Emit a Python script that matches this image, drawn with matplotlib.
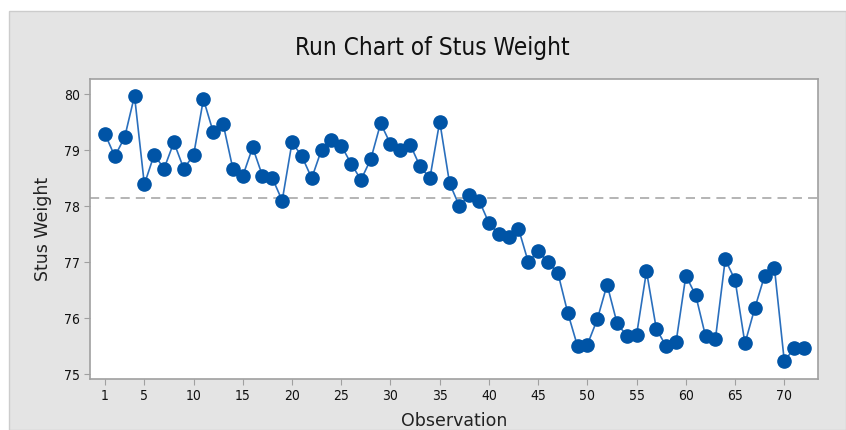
import matplotlib
matplotlib.use('Agg')
import matplotlib.pyplot as plt
from matplotlib.patches import Rectangle
import numpy as np

weight = [
    79.29, 78.89, 79.23, 79.97, 78.39, 78.92, 78.67, 79.14, 78.67, 78.91,
    79.91, 79.32, 79.47, 78.66, 78.54, 79.05, 78.54, 78.50, 78.10, 79.14,
    78.89, 78.50, 79.01, 79.19, 79.08, 78.76, 78.47, 78.84, 79.48, 79.11,
    79.01, 79.10, 78.71, 78.50, 79.51, 78.41, 78.00, 78.20, 78.10, 77.70,
    77.50, 77.45, 77.60, 77.00, 77.20, 77.00, 76.81, 76.10, 75.50, 75.53,
    75.98, 76.60, 75.92, 75.68, 75.71, 76.84, 75.81, 75.50, 75.57, 76.76,
    76.41, 75.68, 75.63, 77.05, 76.68, 75.55, 76.18, 76.76, 76.89, 75.23,
    75.47, 75.47,
]
observation = np.arange(1, len(weight) + 1)
median_value = 78.155

x_ticks = [1, 5, 10, 15, 20, 25, 30, 35, 40, 45, 50, 55, 60, 65, 70]
y_ticks = [75, 76, 77, 78, 79, 80]

fig = plt.figure(figsize=(8.46, 4.30), dpi=100)
fig.patch.set_facecolor('white')
# grey panel behind the graph
fig.patches.append(Rectangle((9 / 846, 0), 1 - 9 / 846, 1 - 11 / 430,
                             transform=fig.transFigure, facecolor='#e4e4e4',
                             edgecolor='#cccccc', lw=1, zorder=-1))

ax = fig.add_axes([90 / 846, 1 - 379 / 430, 728 / 846, 300 / 430])
ax.set_facecolor('white')

ax.axhline(median_value, color='#a0a0a0', lw=1.1, ls=(0, (6, 4)), zorder=1)
ax.plot(observation, weight, color='#2a6fbd', lw=1.2, marker='o',
        markersize=9.5, markerfacecolor='#0054a6', markeredgecolor='#0054a6',
        zorder=3)

ax.set_xlim(-0.52, 73.42)
ax.set_ylim(74.916, 80.27)
ax.set_xticks(x_ticks)
ax.set_yticks(y_ticks)

for s in ax.spines.values():
    s.set_color('#a0a0a0')
    s.set_linewidth(1.2)
ax.tick_params(direction='out', length=4, color='#a0a0a0', labelsize=10,
               labelcolor='#111111', pad=3)
for lab in ax.get_xticklabels() + ax.get_yticklabels():
    lab.set_fontstretch('condensed')

# title is centred on the panel, not on the axes
fig.text(432 / 846, 1 - 48 / 430, 'Run Chart of Stus Weight', fontsize=17.5,
         fontstretch='condensed', color='#111111', ha='center', va='center')
ax.set_xlabel('Observation', fontsize=12.5, color='#222222', labelpad=7)
ax.set_ylabel('Stus Weight', fontsize=12.5, color='#222222', labelpad=9)

fig.savefig('out.png', dpi=100)
